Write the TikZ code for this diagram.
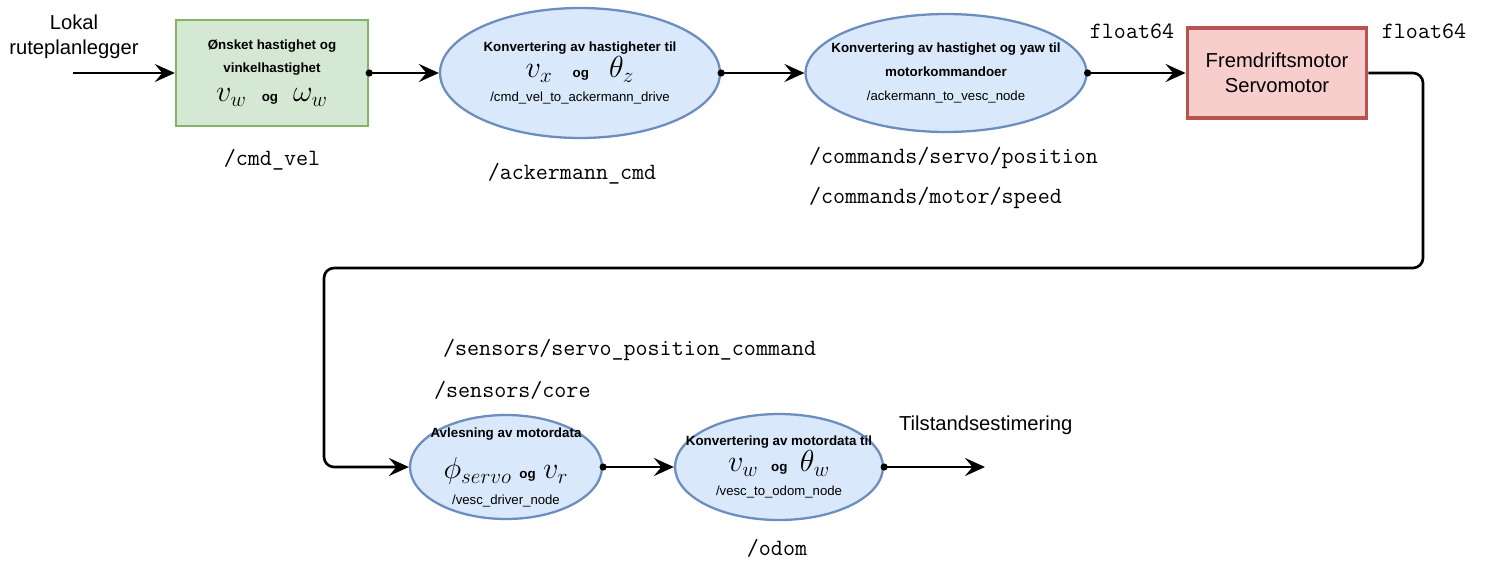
\documentclass[tikz,border=0pt]{standalone}
\usepackage{fontspec}
\setmainfont{Liberation Sans}
\usetikzlibrary{arrows.meta, shapes.geometric, positioning}
\definecolor{bluefill}{HTML}{DAE8FC}
\definecolor{blueline}{HTML}{6C8EBF}
\definecolor{greenfill}{HTML}{D5E8D4}
\definecolor{greenline}{HTML}{82B366}
\definecolor{redfill}{HTML}{F8CECC}
\definecolor{redline}{HTML}{B85450}
\newcommand{\boxfont}{\fontsize{7.6}{13.5}\selectfont\bfseries}
\newcommand{\pathfont}{\fontsize{7.5}{13.5}\selectfont\mdseries}
\newcommand{\topicfont}{\fontsize{13.3}{16}\selectfont\ttfamily}
\newcommand{\labelfont}{\fontsize{11.5}{14}\selectfont}
\newcommand{\symb}[1]{{\fontsize{17}{17}\selectfont$#1$}}

\begin{document}
\begin{tikzpicture}[
    x=0.02cm, y=-0.02cm,
    >={Stealth[length=4mm, width=3.6mm, inset=1.5mm]},
    arr/.style={->, line width=1.5pt},
    dotarr/.style={{Circle[length=1.4mm]}->, line width=1.5pt, shorten <=-0.7mm},
    blob/.style={ellipse, draw=blueline, fill=bluefill, line width=1.3pt,
                 inner xsep=-6mm, inner ysep=-3mm, align=center, font=\boxfont},
    greenbox/.style={rectangle, draw=greenline, fill=greenfill, line width=1.4pt,
                     minimum width=3.84cm, minimum height=2.12cm, align=center, font=\boxfont},
    redbox/.style={rectangle, draw=redline, fill=redfill, line width=2.2pt,
                   minimum width=3.58cm, minimum height=1.8cm, align=center, font=\labelfont},
    topic/.style={font=\topicfont, inner sep=1pt},
    lbl/.style={font=\labelfont, align=center, inner sep=1pt}
  ]
  \useasboundingbox (0,0) rectangle (1487,562);
  \fill[white] (0,0) rectangle (1487,562);

  % upper row: planner -> command chain -> motors
  \node[lbl] (lokal) at (74,37) {Lokal\\ruteplanlegger};
  \coordinate (inn) at (73,73);
  \node[greenbox] (onsket) at (272,73)
    {Ønsket hastighet og\\vinkelhastighet\\[3pt]\symb{v_w}\hspace{3mm}og\hspace{3mm}\symb{\omega_w}};
  \node[topic] (cmdvel) at (272,160) {/cmd\_vel};

  \node[blob, minimum width=5.6cm, minimum height=2.6cm] (tilack) at (580,73)
    {Konvertering av hastigheter til\\
     \symb{v_x}\hspace{4mm}og\hspace{4mm}\symb{\theta_z}\\
     {\pathfont /cmd\_vel\_to\_ackermann\_drive}};
  \node[topic] (ackcmd) at (572,174) {/ackermann\_cmd};

  \node[blob, minimum width=5.62cm, minimum height=2.36cm] (tilvesc) at (946,73)
    {Konvertering av hastighet og yaw til\\motorkommandoer\\
     {\pathfont /ackermann\_to\_vesc\_node}};
  \node[topic, anchor=west] (servopos) at (807,158) {/commands/servo/position};
  \node[topic, anchor=west] (motorspeed) at (807,198) {/commands/motor/speed};

  \node[redbox] (motor) at (1277,73) {Fremdriftsmotor\\Servomotor};
  \node[topic] (floatinn) at (1132,31) {float64};
  \node[topic] (floatut) at (1424,31) {float64};

  % lower row: motor feedback -> odometry
  \coordinate (loopR) at (1423,268);
  \coordinate (loopL) at (324,268);
  \node[topic, anchor=west] (servocmd) at (441,350) {/sensors/servo\_position\_command};
  \node[topic, anchor=west] (core) at (432,390) {/sensors/core};

  \node[blob, minimum width=3.84cm, minimum height=2.08cm] (avles) at (506,467)
    {Avlesning av motordata\\[9pt]
     \symb{\phi_{servo}}\hspace{1.5mm}og\hspace{1.5mm}\symb{v_r}\hspace*{8mm}\\[1pt]
     {\pathfont /vesc\_driver\_node}};
  \node[blob, minimum width=4.16cm, minimum height=2.12cm] (tilodom) at (779,467)
    {Konvertering av motordata til\\
     \symb{v_w}\hspace{2.5mm}og\hspace{2.5mm}\symb{\theta_w}\\
     {\pathfont /vesc\_to\_odom\_node}};
  \node[topic] (odom) at (777,548) {/odom};
  \node[lbl, anchor=west] (tilstand) at (897,425) {Tilstandsestimering};
  \coordinate (ut) at (985,467);

  \draw[arr] (inn) -- (onsket.west);
  \draw[dotarr] (onsket.east) -- (tilack.west);
  \draw[dotarr] (tilack.east) -- (tilvesc.west);
  \draw[dotarr] (tilvesc.east) -- (motor.west);
  \draw[arr, rounded corners=2mm] (motor.east) -| (loopR) -- (loopL) |- (avles.west);
  \draw[dotarr] (avles.east) -- (tilodom.west);
  \draw[dotarr] (tilodom.east) -- (ut);
\end{tikzpicture}
\end{document}
